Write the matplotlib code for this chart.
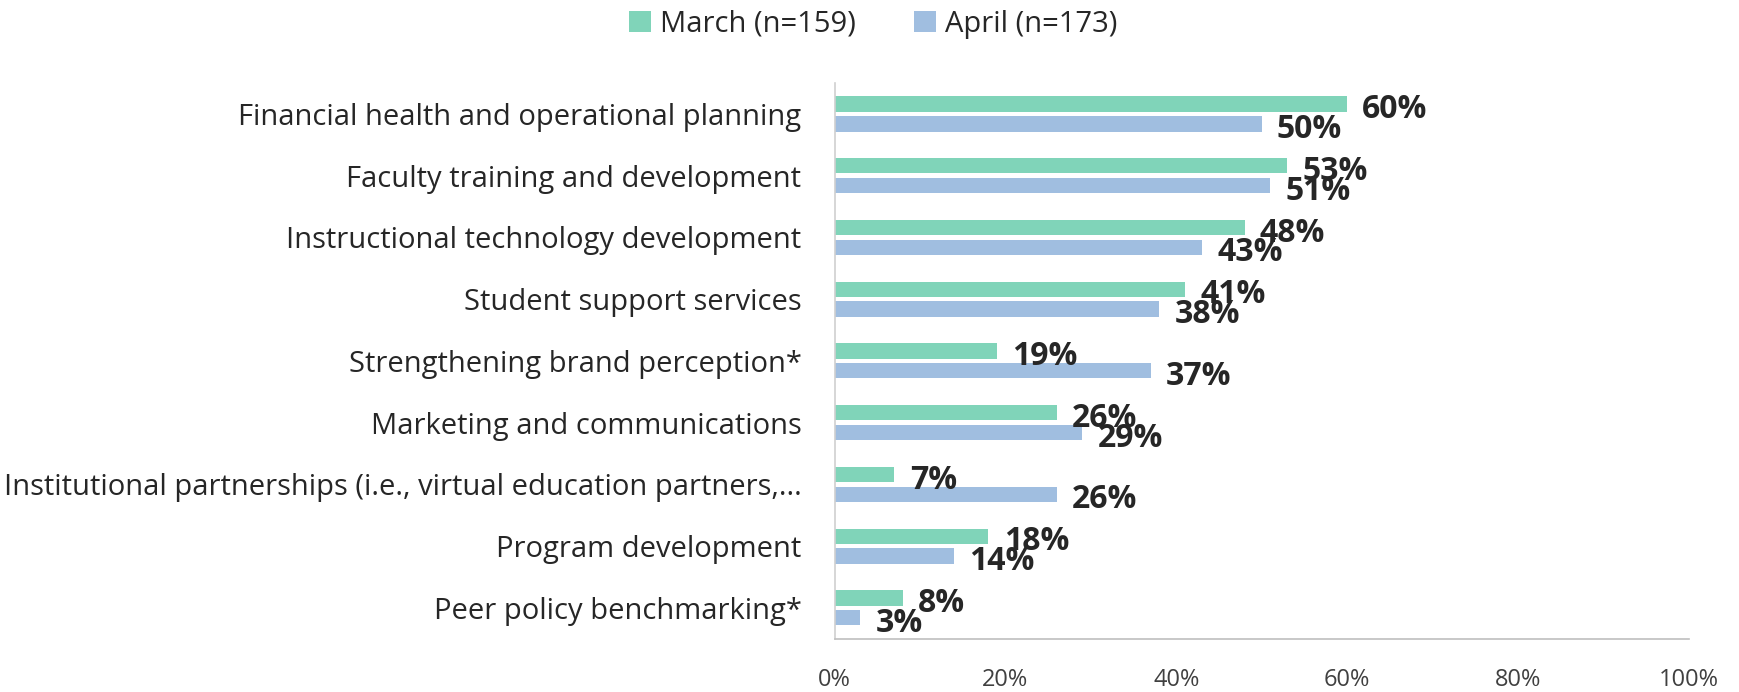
import matplotlib.pyplot as plt
import numpy as np

categories = [
    "Financial health and operational planning",
    "Faculty training and development",
    "Instructional technology development",
    "Student support services",
    "Strengthening brand perception*",
    "Marketing and communications",
    "Institutional partnerships (i.e., virtual education partners,...",
    "Program development",
    "Peer policy benchmarking*",
]
march = [60, 53, 48, 41, 19, 26, 7, 18, 8]
april = [50, 51, 43, 38, 37, 29, 26, 14, 3]
series_names = ["March (n=159)", "April (n=173)"]
xticks = [0, 20, 40, 60, 80, 100]

plt.rcParams['font.family'] = ['Open Sans', 'DejaVu Sans']

green = '#80d4b9'
blue = '#a0bee0'
txt = '#262626'

fig = plt.figure(figsize=(17.39, 6.92), dpi=100)
ax = fig.add_axes([0.480, 0.077, 0.491, 0.803])

y = np.arange(len(categories))
h = 0.25
off = 0.16
b1 = ax.barh(y - off, march, height=h, color=green, label=series_names[0])
b2 = ax.barh(y + off, april, height=h, color=blue, label=series_names[1])

# value labels, just right of the bar ends and a touch low like the original
for yy, v in zip(y - off, march):
    ax.annotate(f"{v}%", (v, yy), xytext=(11, -4), textcoords='offset points',
                ha='left', va='center', fontsize=23, fontweight='bold', color=txt)
for yy, v in zip(y + off, april):
    ax.annotate(f"{v}%", (v, yy), xytext=(11, -4), textcoords='offset points',
                ha='left', va='center', fontsize=23, fontweight='bold', color=txt)

ax.set_xlim(0, 100)
ax.set_ylim(len(categories) - 0.5, -0.5)
ax.set_yticks(y)
ax.set_yticklabels(categories, fontsize=21, color=txt)
ax.set_xticks(xticks)
ax.set_xticklabels([f"{t}%" for t in xticks], fontsize=17, color='#404040')
ax.tick_params(axis='y', length=0, pad=24)
ax.tick_params(axis='x', length=0, pad=21)

for s in ('top', 'right'):
    ax.spines[s].set_visible(False)
ax.spines['left'].set_color('#d0d0d0')
ax.spines['bottom'].set_color('#bfbfbf')
ax.spines['left'].set_linewidth(1.2)
ax.spines['bottom'].set_linewidth(1.2)

fig.legend(handles=[b1, b2], loc='center', bbox_to_anchor=(0.502, 0.965), ncol=2,
           frameon=False, fontsize=21, handlelength=0.75, handleheight=0.75,
           handletextpad=0.3, columnspacing=2.0, labelcolor=txt)

fig.savefig('out.png', dpi=100)
